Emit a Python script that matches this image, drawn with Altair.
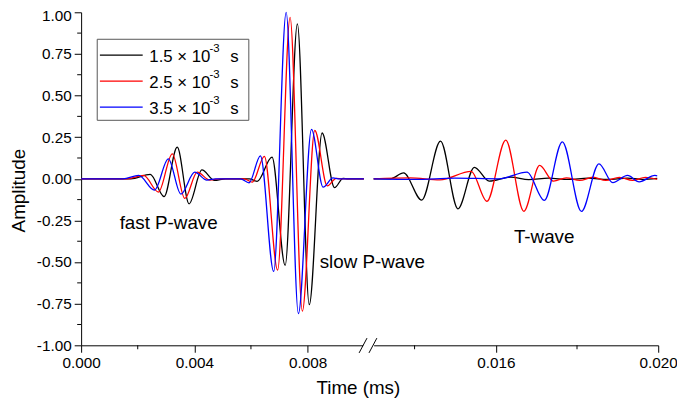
import altair as alt
import pandas as pd

# ---------------- data ----------------
SERIES = ["1.5 × 10⁻³ s", "2.5 × 10⁻³ s", "3.5 × 10⁻³ s"]
COLORS = ["black", "red", "blue"]
LEGEND_MAIN = ["1.5 × 10", "2.5 × 10", "3.5 × 10"]
LEGEND_SUP = "-3"
LEGEND_UNIT = "s"

# left part of the broken time axis (fast and slow P-waves)
BLACK_L_T = [0, 0.001755, 0.002442, 0.002931, 0.003395, 0.003814, 0.004267, 0.004710, 0.005105,
             0.005942, 0.006221, 0.006745, 0.007209, 0.007641, 0.008060, 0.008514, 0.008953,
             0.009257, 0.009431, 0.00999]
BLACK_L_A = [0, 0, 0.026, -0.107, 0.19, -0.15, 0.053, -0.01, 0,
             0, -0.015, 0.13, -0.52, 0.93, -0.756, 0.275, -0.053, 0.003, 0, 0]
RED_L_T = [0, 0.001616, 0.002209, 0.002732, 0.003221, 0.003664, 0.004103, 0.004546, 0.004895,
           0.005768, 0.006047, 0.006476, 0.006943, 0.007383, 0.007816, 0.008255, 0.008699,
           0.009013, 0.009222, 0.00999]
RED_L_A = [0, 0, 0.02, -0.08, 0.15, -0.118, 0.04, -0.008, 0,
           0, -0.02, 0.135, -0.548, 0.97, -0.795, 0.29, -0.043, 0.003, 0, 0]
BLUE_L_T = [0, 0.001476, 0.002034, 0.002592, 0.003081, 0.003524, 0.004013, 0.004442, 0.004756,
            0.005628, 0.005932, 0.006336, 0.006804, 0.007244, 0.007676, 0.008140, 0.008549,
            0.008898, 0.009082, 0.00999]
BLUE_L_A = [0, 0, 0.02, -0.068, 0.12, -0.092, 0.04, -0.008, 0,
            0, -0.024, 0.138, -0.556, 1.0, -0.81, 0.297, -0.05, 0.005, 0, 0]

# right part of the broken time axis (T-wave)
BLACK_R_T = [0.012992, 0.013405, 0.013729, 0.014176, 0.014639, 0.015067, 0.015473, 0.015838,
             0.016366, 0.016812, 0.017298, 0.017785, 0.018272, 0.018759, 0.019245, 0.019610, 0.019975]
BLACK_R_A = [0, 0, 0.035, -0.128, 0.226, -0.18, 0.069, -0.014,
             0.01, -0.005, 0.004, -0.004, 0.004, -0.004, 0.004, -0.003, 0.003]
RED_R_T = [0.012992, 0.013892, 0.014622, 0.015393, 0.015782, 0.016245, 0.016690, 0.017079,
           0.017420, 0.017736, 0.018070, 0.018393, 0.018709, 0.019043, 0.019366, 0.019683, 0.019975]
RED_R_A = [0, 0.006, -0.006, 0.045, -0.135, 0.232, -0.195, 0.08,
           -0.014, 0.006, -0.01, 0.01, -0.01, 0.008, -0.01, 0.008, -0.004]
BLUE_R_T = [0.012992, 0.014014, 0.014987, 0.016082, 0.016770, 0.017194, 0.017639, 0.018109,
            0.018540, 0.018881, 0.019245, 0.019530, 0.019919, 0.019975]
BLUE_R_A = [0, -0.004, 0.004, 0, 0.04, -0.13, 0.222, -0.196,
            0.09, -0.023, 0.02, -0.018, 0.02, 0.018]

X_MAJOR = [0, 0.004, 0.008, 0.016, 0.020]
X_MINOR = [0.002, 0.006, 0.014, 0.018]
Y_MAJOR = [-1, -0.75, -0.5, -0.25, 0, 0.25, 0.5, 0.75, 1]
Y_MINOR = [-0.875, -0.625, -0.375, -0.125, 0.125, 0.375, 0.625, 0.875]
X_DOMAIN = [0, 0.01016, 0.01287, 0.020]   # broken axis: left piece | right piece

ANNOT_TEXT = ["fast P-wave", "slow P-wave", "T-wave"]
ANNOT_T = [0.001361, 0.008430, 0.016447]
ANNOT_A = [-0.301, -0.534, -0.386]

# ---------------- build ----------------
W, H = 584, 337
BREAK_PX = 291
FONT = "Liberation Sans"

rows = []
for name, segs in zip(SERIES, [
        [(BLACK_L_T, BLACK_L_A), (BLACK_R_T, BLACK_R_A)],
        [(RED_L_T, RED_L_A), (RED_R_T, RED_R_A)],
        [(BLUE_L_T, BLUE_L_A), (BLUE_R_T, BLUE_R_A)]]):
    for k, (ts, as_) in enumerate(segs):
        for t, a in zip(ts, as_):
            rows.append({"series": name, "seg": k, "t": t, "amp": a})
df = pd.DataFrame(rows)

xscale = alt.Scale(domain=X_DOMAIN, range=[0, BREAK_PX, BREAK_PX, W], nice=False, zero=False)
yscale = alt.Scale(domain=[-1, 1], nice=False, zero=False)

AX = dict(domainColor="black", domainWidth=1, tickColor="black", tickWidth=1,
          labelFont=FONT, labelFontSize=15.5, labelColor="black",
          titleFont=FONT, titleFontSize=19, titleFontWeight="normal", titleColor="black",
          labelFlush=False, labelOverlap=False, labelBound=False, grid=False, zindex=0)

x_axis = alt.Axis(
    values=X_MAJOR, format=".3f", tickSize=7, labelPadding=3,
    title="Time (ms)", titleX=280, titleY=49, titleBaseline="alphabetic", titleAlign="center",
    **AX,
)
y_axis = alt.Axis(
    values=Y_MAJOR, tickSize=7, labelPadding=3,
    labelExpr="replace(format(datum.value, '.2f'), '−', '-')",
    labelOffset={"condition": {"test": "datum.value == 1", "value": 3}, "value": 0},
    title="Amplitude", titleX=-57, titleY=180, titleAngle=270, titleBaseline="alphabetic",
    titleAlign="center", **AX,
)

one = pd.DataFrame({"k": [0]})
layers = []

# minor ticks
layers.append(
    alt.Chart(pd.DataFrame({"t": X_MINOR})).mark_rule(color="black", strokeWidth=1)
    .encode(x=alt.X("t:Q", scale=xscale, axis=x_axis), y=alt.value(H), y2=alt.value(H + 4))
)
layers.append(
    alt.Chart(pd.DataFrame({"amp": Y_MINOR})).mark_rule(color="black", strokeWidth=1)
    .encode(y=alt.Y("amp:Q", scale=yscale, axis=y_axis), x=alt.value(-4), x2=alt.value(0))
)

for i, (name, col) in enumerate(zip(SERIES, COLORS)):
    layers.append(
        alt.Chart(df).transform_filter(alt.datum.series == name)
        .mark_line(color=col, strokeWidth=1.3, interpolate="monotone")
        .encode(x=alt.X("t:Q", scale=xscale), y=alt.Y("amp:Q", scale=yscale), detail="seg:N")
    )

# annotations
ann = pd.DataFrame({"text": ANNOT_TEXT, "t": ANNOT_T, "amp": ANNOT_A})
layers.append(
    alt.Chart(ann).mark_text(font=FONT, fontSize=19, align="left", baseline="alphabetic", color="black")
    .encode(x=alt.X("t:Q", scale=xscale), y=alt.Y("amp:Q", scale=yscale), text="text:N")
)

# legend box
layers.append(
    alt.Chart(one).mark_rect(fill="white", stroke="#555555", strokeWidth=1)
    .encode(x=alt.value(16.3), x2=alt.value(169.7), y=alt.value(27.3), y2=alt.value(109.3))
)
ROW_Y = [43.3, 69.6, 96.0]
for col, main, ry in zip(COLORS, LEGEND_MAIN, ROW_Y):
    layers.append(
        alt.Chart(one).mark_rule(color=col, strokeWidth=1.3)
        .encode(x=alt.value(19), x2=alt.value(62.3), y=alt.value(ry))
    )
    layers.append(
        alt.Chart(one).mark_text(font=FONT, fontSize=17, align="left", baseline="alphabetic", color="black")
        .encode(x=alt.value(69), y=alt.value(ry + 7), text=alt.value(main))
    )
    layers.append(
        alt.Chart(one).mark_text(font=FONT, fontSize=11.5, align="left", baseline="alphabetic", color="black")
        .encode(x=alt.value(130), y=alt.value(ry - 3), text=alt.value(LEGEND_SUP))
    )
    layers.append(
        alt.Chart(one).mark_text(font=FONT, fontSize=17, align="left", baseline="alphabetic", color="black")
        .encode(x=alt.value(151), y=alt.value(ry + 7), text=alt.value(LEGEND_UNIT))
    )

# axis break mark
layers.append(
    alt.Chart(one).mark_rect(fill="white")
    .encode(x=alt.value(BREAK_PX - 5.5), x2=alt.value(BREAK_PX + 5.5), y=alt.value(H - 3), y2=alt.value(H + 3))
)
for dx in (-9.7, 0.3):
    layers.append(
        alt.Chart(one).mark_rule(color="black", strokeWidth=1)
        .encode(x=alt.value(BREAK_PX + dx), x2=alt.value(BREAK_PX + dx + 8),
                y=alt.value(H + 7.7), y2=alt.value(H - 7.3))
    )

chart = (
    alt.layer(*layers)
    .properties(width=W, height=H, autosize="none", background="white",
                padding={"left": 74, "top": 2, "right": 19, "bottom": 53})
    .configure_view(strokeOpacity=0, strokeWidth=0)
)

chart.save("out.html", embed_options={"renderer": "svg", "actions": False})
